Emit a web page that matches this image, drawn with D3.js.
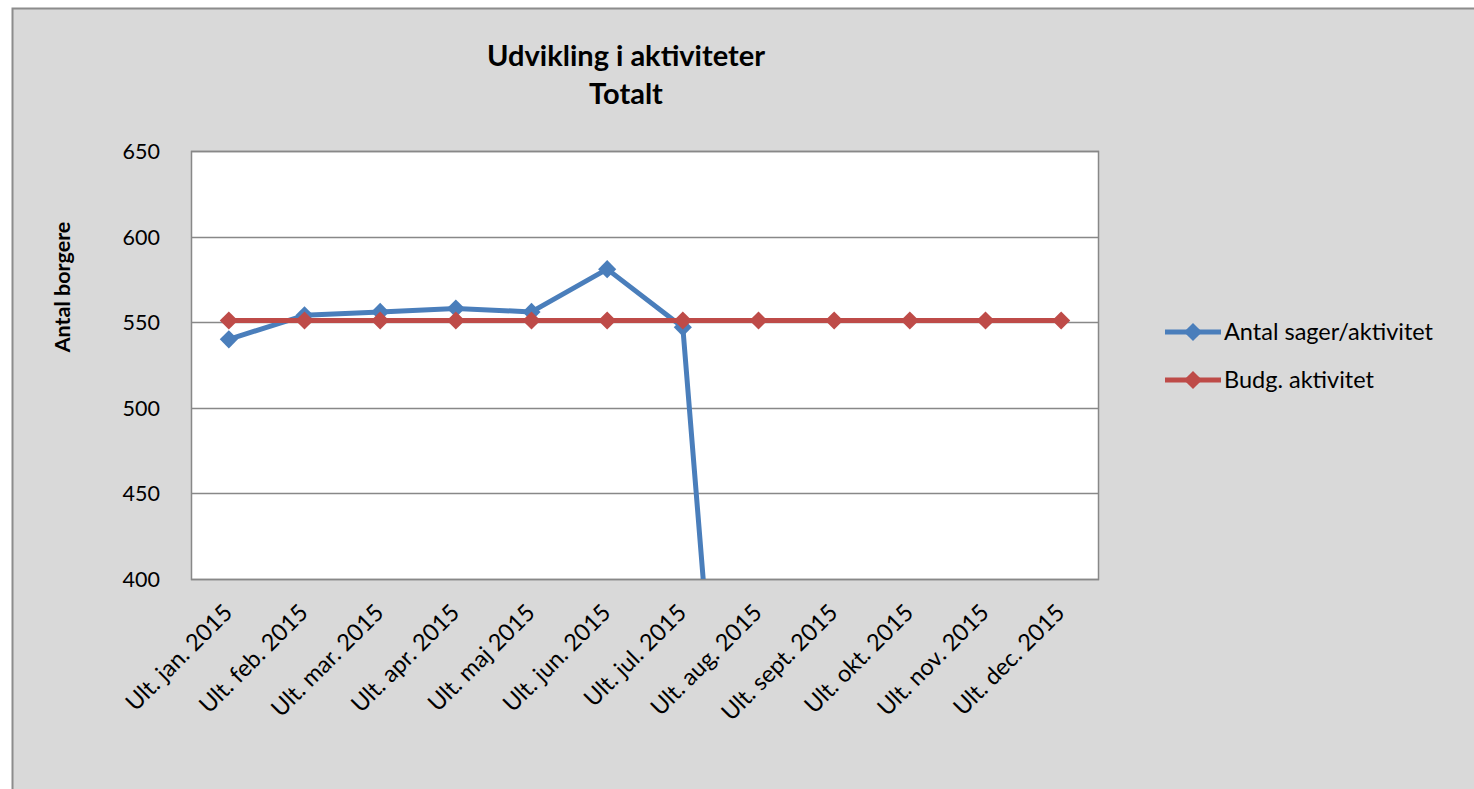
<!DOCTYPE html>
<html><head><meta charset="utf-8">
<script src="https://cdn.jsdelivr.net/npm/d3@7"></script>
<style>body{margin:0;background:#fff}svg{display:block}</style>
</head><body>
<svg id="c" width="1474" height="789"></svg>
<script>
const categories = ["Ult. jan. 2015","Ult. feb. 2015","Ult. mar. 2015","Ult. apr. 2015","Ult. maj 2015","Ult. jun. 2015","Ult. jul. 2015","Ult. aug. 2015","Ult. sept. 2015","Ult. okt. 2015","Ult. nov. 2015","Ult. dec. 2015"];
const antalSager = [540, 554, 556, 558, 556, 581, 547, 0, 0, 0, 0, 0];
const budgAktivitet = [551, 551, 551, 551, 551, 551, 551, 551, 551, 551, 551, 551];
const yTicks = [400, 450, 500, 550, 600, 650];
const seriesNames = ["Antal sager/aktivitet", "Budg. aktivitet"];
const seriesColors = ["#4a7ebb", "#be4b48"];
const titleLines = ["Udvikling i aktiviteter", "Totalt"];
const yTitle = "Antal borgere";

const svg = d3.select("#c");
const font = "Lato, 'Open Sans', sans-serif";
svg.append("rect").attr("x",0).attr("y",0).attr("width",1474).attr("height",789).attr("fill","#ffffff");
svg.append("rect").attr("x",12.5).attr("y",8.5).attr("width",1480).attr("height",800)
  .attr("fill","#d9d9d9").attr("stroke","#8c8c8c").attr("stroke-width",2);

const m = {l:191, r:1099, t:151, b:579};
const x = d3.scaleBand().domain(categories).range([m.l, m.r]);
const y = d3.scaleLinear().domain([400, 650]).range([m.b, m.t]);

svg.append("rect").attr("x",m.l).attr("y",m.t).attr("width",m.r-m.l).attr("height",m.b-m.t).attr("fill","#fff");

// gridlines
svg.append("g").selectAll("line").data(yTicks).join("line")
  .attr("x1",m.l).attr("x2",m.r).attr("y1",d=>Math.round(y(d))+0.5).attr("y2",d=>Math.round(y(d))+0.5)
  .attr("stroke","#888").attr("stroke-width",1.5);
// plot border
svg.append("rect").attr("x",m.l+0.5).attr("y",m.t+0.5).attr("width",m.r-m.l-1).attr("height",m.b-m.t)
  .attr("fill","none").attr("stroke","#888").attr("stroke-width",1.5);

// y axis labels
const yAxis = d3.axisLeft(y).tickValues(yTicks).tickSize(0).tickPadding(31);
const ya = svg.append("g").attr("transform",`translate(${m.l},0)`).call(yAxis);
ya.select(".domain").remove();
ya.selectAll("text").attr("font-family",font).attr("font-size",21.5).attr("fill","#000").attr("dy","0.35em");

// x axis labels
const xAxis = d3.axisBottom(x).tickSize(0).tickPadding(0);
const xa = svg.append("g").attr("transform",`translate(0,${m.b})`).call(xAxis);
xa.select(".domain").remove();
xa.selectAll("text").attr("font-family",font).attr("font-size",23.5).attr("fill","#000")
  .attr("text-anchor","end").attr("dy",null).attr("y",null)
  .attr("transform","translate(5,35) rotate(-45)");

// clip
svg.append("clipPath").attr("id","clip").append("rect")
  .attr("x",m.l).attr("y",m.t-12).attr("width",m.r-m.l+12).attr("height",m.b-m.t+12);

const line = d3.line().x((d,i)=>x(categories[i])+x.bandwidth()/2).y(d=>y(d));
const diamond = d3.symbol().type(d3.symbolDiamond2).size(210);
[antalSager, budgAktivitet].forEach((vals, si) => {
  const g = svg.append("g").attr("clip-path","url(#clip)");
  g.append("path").datum(vals).attr("d",line).attr("fill","none")
    .attr("stroke",seriesColors[si]).attr("stroke-width",5).attr("stroke-linejoin","round");
  g.selectAll("path.m").data(vals).join("path").attr("class","m")
    .attr("d",diamond).attr("fill",seriesColors[si])
    .attr("transform",(d,i)=>`translate(${x(categories[i])+x.bandwidth()/2},${y(d)})`);
});

// legend
seriesNames.forEach((n,i)=>{
  const ly = 332 + i*48;
  const g = svg.append("g");
  g.append("line").attr("x1",1165).attr("x2",1221).attr("y1",ly).attr("y2",ly)
    .attr("stroke",seriesColors[i]).attr("stroke-width",5);
  g.append("path").attr("d",diamond).attr("fill",seriesColors[i]).attr("transform",`translate(1193,${ly})`);
  g.append("text").attr("x",1224).attr("y",ly).attr("dy","0.35em").attr("font-family",font)
    .attr("font-size",23.5).attr("fill","#000").text(n);
});

// title
svg.append("text").attr("x",626).attr("y",66).attr("text-anchor","middle").attr("font-family",font)
  .attr("font-weight","bold").attr("font-size",29).attr("fill","#000").text(titleLines[0]);
svg.append("text").attr("x",626).attr("y",104).attr("text-anchor","middle").attr("font-family",font)
  .attr("font-weight","bold").attr("font-size",29).attr("fill","#000").text(titleLines[1]);

// y title
svg.append("text").attr("transform","translate(70,287) rotate(-90)").attr("text-anchor","middle")
  .attr("font-family",font).attr("font-weight","bold").attr("font-size",21.5).attr("fill","#000").text(yTitle);
</script>
</body></html>
